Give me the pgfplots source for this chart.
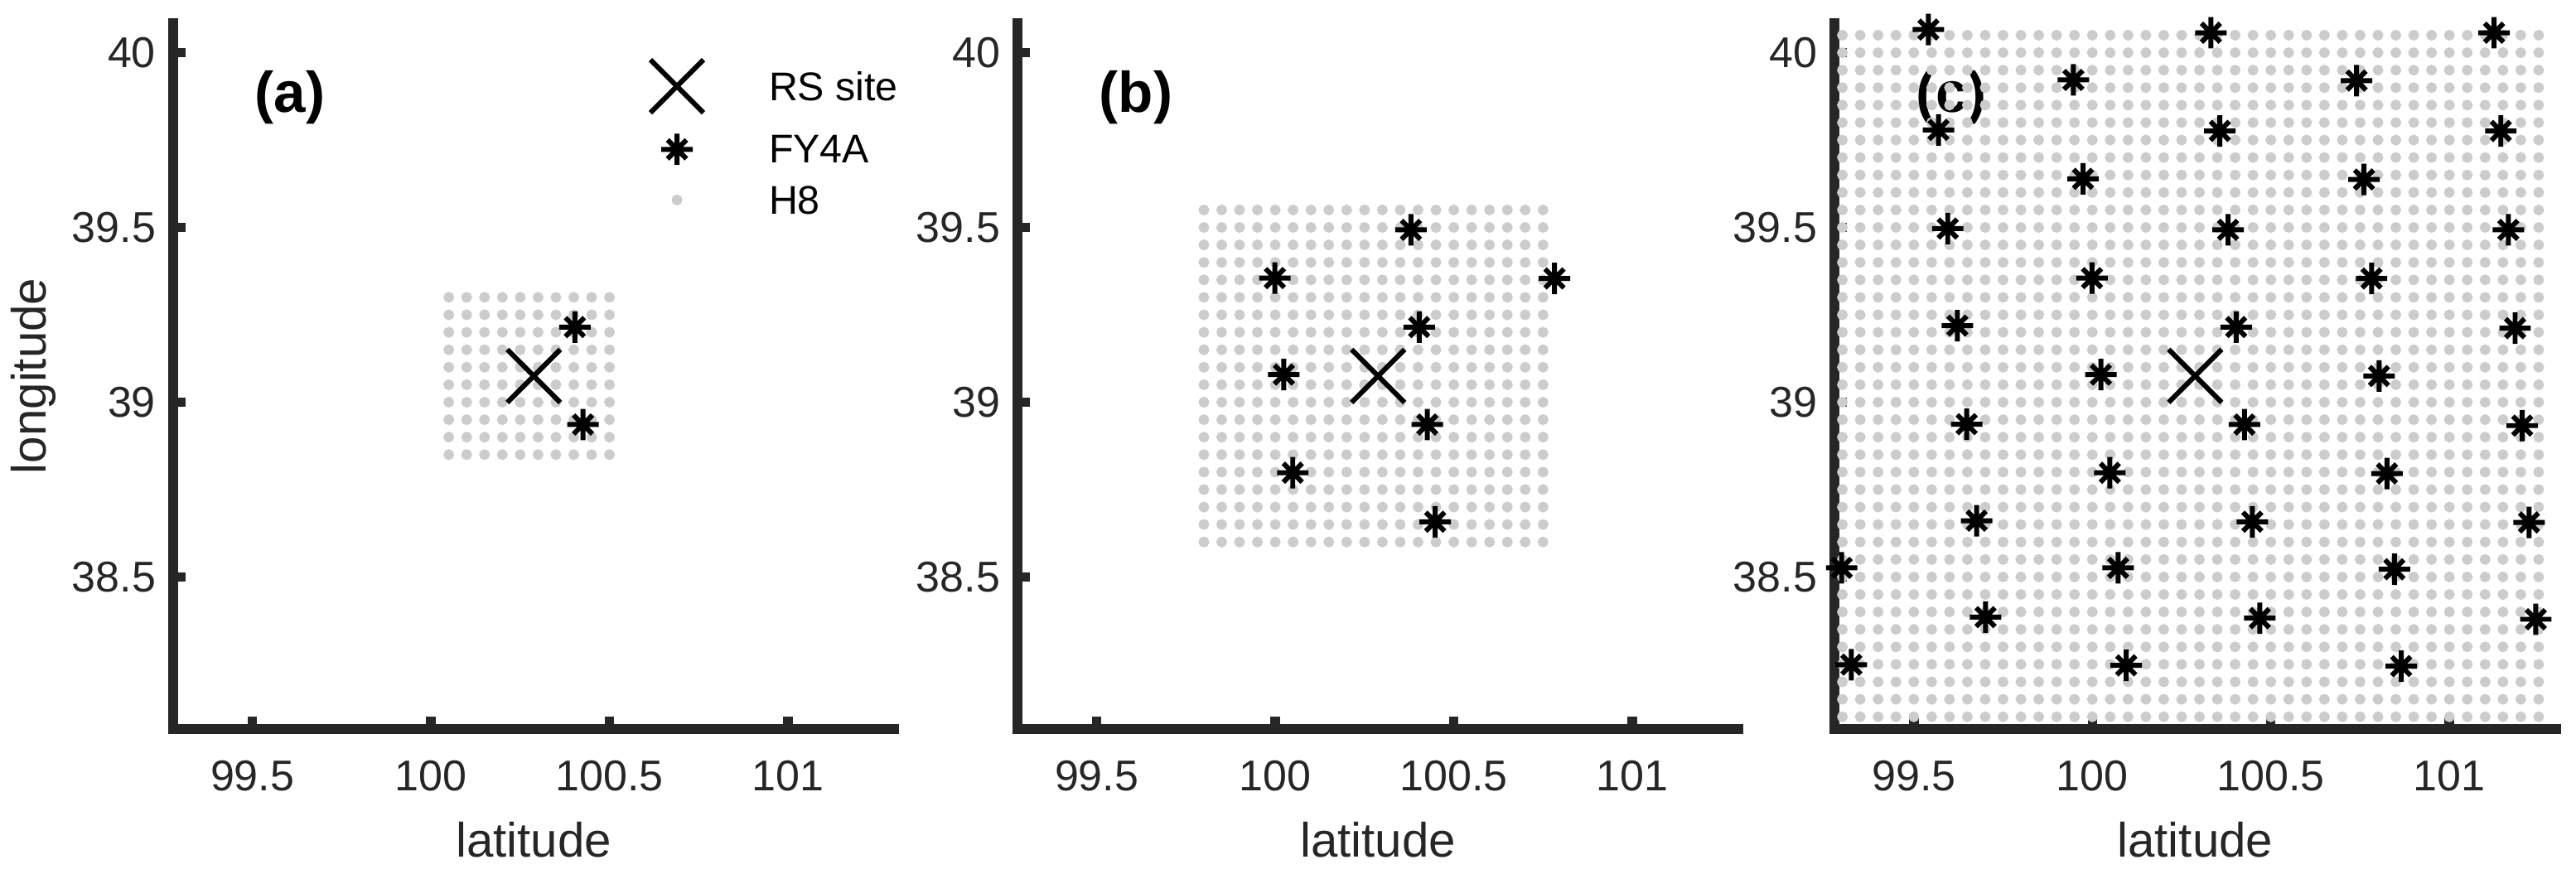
\documentclass[border=0pt]{standalone}
\usepackage{fontspec}
\setmainfont{Liberation Sans}
\usepackage{pgfplots}
\pgfplotsset{compat=1.18}
\usepackage{pgfplotstable}

\definecolor{axgray}{RGB}{38,38,38}
\definecolor{hgray}{RGB}{204,204,204}

% MATLAB-like asterisk: plus with shorter diagonals
\pgfdeclareplotmark{mstar}{%
  \pgfpathmoveto{\pgfqpoint{-\pgfplotmarksize}{0pt}}%
  \pgfpathlineto{\pgfqpoint{\pgfplotmarksize}{0pt}}%
  \pgfpathmoveto{\pgfqpoint{0pt}{-\pgfplotmarksize}}%
  \pgfpathlineto{\pgfqpoint{0pt}{\pgfplotmarksize}}%
  \pgfpathmoveto{\pgfqpoint{-0.6\pgfplotmarksize}{-0.6\pgfplotmarksize}}%
  \pgfpathlineto{\pgfqpoint{0.6\pgfplotmarksize}{0.6\pgfplotmarksize}}%
  \pgfpathmoveto{\pgfqpoint{-0.6\pgfplotmarksize}{0.6\pgfplotmarksize}}%
  \pgfpathlineto{\pgfqpoint{0.6\pgfplotmarksize}{-0.6\pgfplotmarksize}}%
  \pgfusepathqstroke}

% H8 pixel centres (0.05 deg grid)
\pgfplotstableread{
x y
99.3 38.1
99.35 38.1
99.4 38.1
99.45 38.1
99.5 38.1
99.55 38.1
99.6 38.1
99.65 38.1
99.7 38.1
99.75 38.1
99.8 38.1
99.85 38.1
99.9 38.1
99.95 38.1
100 38.1
100.05 38.1
100.1 38.1
100.15 38.1
100.2 38.1
100.25 38.1
100.3 38.1
100.35 38.1
100.4 38.1
100.45 38.1
100.5 38.1
100.55 38.1
100.6 38.1
100.65 38.1
100.7 38.1
100.75 38.1
100.8 38.1
100.85 38.1
100.9 38.1
100.95 38.1
101 38.1
101.05 38.1
101.1 38.1
101.15 38.1
101.2 38.1
101.25 38.1
99.3 38.15
99.35 38.15
99.4 38.15
99.45 38.15
99.5 38.15
99.55 38.15
99.6 38.15
99.65 38.15
99.7 38.15
99.75 38.15
99.8 38.15
99.85 38.15
99.9 38.15
99.95 38.15
100 38.15
100.05 38.15
100.1 38.15
100.15 38.15
100.2 38.15
100.25 38.15
100.3 38.15
100.35 38.15
100.4 38.15
100.45 38.15
100.5 38.15
100.55 38.15
100.6 38.15
100.65 38.15
100.7 38.15
100.75 38.15
100.8 38.15
100.85 38.15
100.9 38.15
100.95 38.15
101 38.15
101.05 38.15
101.1 38.15
101.15 38.15
101.2 38.15
101.25 38.15
99.3 38.2
99.35 38.2
99.4 38.2
99.45 38.2
99.5 38.2
99.55 38.2
99.6 38.2
99.65 38.2
99.7 38.2
99.75 38.2
99.8 38.2
99.85 38.2
99.9 38.2
99.95 38.2
100 38.2
100.05 38.2
100.1 38.2
100.15 38.2
100.2 38.2
100.25 38.2
100.3 38.2
100.35 38.2
100.4 38.2
100.45 38.2
100.5 38.2
100.55 38.2
100.6 38.2
100.65 38.2
100.7 38.2
100.75 38.2
100.8 38.2
100.85 38.2
100.9 38.2
100.95 38.2
101 38.2
101.05 38.2
101.1 38.2
101.15 38.2
101.2 38.2
101.25 38.2
99.3 38.25
99.35 38.25
99.4 38.25
99.45 38.25
99.5 38.25
99.55 38.25
99.6 38.25
99.65 38.25
99.7 38.25
99.75 38.25
99.8 38.25
99.85 38.25
99.9 38.25
99.95 38.25
100 38.25
100.05 38.25
100.1 38.25
100.15 38.25
100.2 38.25
100.25 38.25
100.3 38.25
100.35 38.25
100.4 38.25
100.45 38.25
100.5 38.25
100.55 38.25
100.6 38.25
100.65 38.25
100.7 38.25
100.75 38.25
100.8 38.25
100.85 38.25
100.9 38.25
100.95 38.25
101 38.25
101.05 38.25
101.1 38.25
101.15 38.25
101.2 38.25
101.25 38.25
99.3 38.3
99.35 38.3
99.4 38.3
99.45 38.3
99.5 38.3
99.55 38.3
99.6 38.3
99.65 38.3
99.7 38.3
99.75 38.3
99.8 38.3
99.85 38.3
99.9 38.3
99.95 38.3
100 38.3
100.05 38.3
100.1 38.3
100.15 38.3
100.2 38.3
100.25 38.3
100.3 38.3
100.35 38.3
100.4 38.3
100.45 38.3
100.5 38.3
100.55 38.3
100.6 38.3
100.65 38.3
100.7 38.3
100.75 38.3
100.8 38.3
100.85 38.3
100.9 38.3
100.95 38.3
101 38.3
101.05 38.3
101.1 38.3
101.15 38.3
101.2 38.3
101.25 38.3
99.3 38.35
99.35 38.35
99.4 38.35
99.45 38.35
99.5 38.35
99.55 38.35
99.6 38.35
99.65 38.35
99.7 38.35
99.75 38.35
99.8 38.35
99.85 38.35
99.9 38.35
99.95 38.35
100 38.35
100.05 38.35
100.1 38.35
100.15 38.35
100.2 38.35
100.25 38.35
100.3 38.35
100.35 38.35
100.4 38.35
100.45 38.35
100.5 38.35
100.55 38.35
100.6 38.35
100.65 38.35
100.7 38.35
100.75 38.35
100.8 38.35
100.85 38.35
100.9 38.35
100.95 38.35
101 38.35
101.05 38.35
101.1 38.35
101.15 38.35
101.2 38.35
101.25 38.35
99.3 38.4
99.35 38.4
99.4 38.4
99.45 38.4
99.5 38.4
99.55 38.4
99.6 38.4
99.65 38.4
99.7 38.4
99.75 38.4
99.8 38.4
99.85 38.4
99.9 38.4
99.95 38.4
100 38.4
100.05 38.4
100.1 38.4
100.15 38.4
100.2 38.4
100.25 38.4
100.3 38.4
100.35 38.4
100.4 38.4
100.45 38.4
100.5 38.4
100.55 38.4
100.6 38.4
100.65 38.4
100.7 38.4
100.75 38.4
100.8 38.4
100.85 38.4
100.9 38.4
100.95 38.4
101 38.4
101.05 38.4
101.1 38.4
101.15 38.4
101.2 38.4
101.25 38.4
99.3 38.45
99.35 38.45
99.4 38.45
99.45 38.45
99.5 38.45
99.55 38.45
99.6 38.45
99.65 38.45
99.7 38.45
99.75 38.45
99.8 38.45
99.85 38.45
99.9 38.45
99.95 38.45
100 38.45
100.05 38.45
100.1 38.45
100.15 38.45
100.2 38.45
100.25 38.45
100.3 38.45
100.35 38.45
100.4 38.45
100.45 38.45
100.5 38.45
100.55 38.45
100.6 38.45
100.65 38.45
100.7 38.45
100.75 38.45
100.8 38.45
100.85 38.45
100.9 38.45
100.95 38.45
101 38.45
101.05 38.45
101.1 38.45
101.15 38.45
101.2 38.45
101.25 38.45
99.3 38.5
99.35 38.5
99.4 38.5
99.45 38.5
99.5 38.5
99.55 38.5
99.6 38.5
99.65 38.5
99.7 38.5
99.75 38.5
99.8 38.5
99.85 38.5
99.9 38.5
99.95 38.5
100 38.5
100.05 38.5
100.1 38.5
100.15 38.5
100.2 38.5
100.25 38.5
100.3 38.5
100.35 38.5
100.4 38.5
100.45 38.5
100.5 38.5
100.55 38.5
100.6 38.5
100.65 38.5
100.7 38.5
100.75 38.5
100.8 38.5
100.85 38.5
100.9 38.5
100.95 38.5
101 38.5
101.05 38.5
101.1 38.5
101.15 38.5
101.2 38.5
101.25 38.5
99.3 38.55
99.35 38.55
99.4 38.55
99.45 38.55
99.5 38.55
99.55 38.55
99.6 38.55
99.65 38.55
99.7 38.55
99.75 38.55
99.8 38.55
99.85 38.55
99.9 38.55
99.95 38.55
100 38.55
100.05 38.55
100.1 38.55
100.15 38.55
100.2 38.55
100.25 38.55
100.3 38.55
100.35 38.55
100.4 38.55
100.45 38.55
100.5 38.55
100.55 38.55
100.6 38.55
100.65 38.55
100.7 38.55
100.75 38.55
100.8 38.55
100.85 38.55
100.9 38.55
100.95 38.55
101 38.55
101.05 38.55
101.1 38.55
101.15 38.55
101.2 38.55
101.25 38.55
99.3 38.6
99.35 38.6
99.4 38.6
99.45 38.6
99.5 38.6
99.55 38.6
99.6 38.6
99.65 38.6
99.7 38.6
99.75 38.6
99.8 38.6
99.85 38.6
99.9 38.6
99.95 38.6
100 38.6
100.05 38.6
100.1 38.6
100.15 38.6
100.2 38.6
100.25 38.6
100.3 38.6
100.35 38.6
100.4 38.6
100.45 38.6
100.5 38.6
100.55 38.6
100.6 38.6
100.65 38.6
100.7 38.6
100.75 38.6
100.8 38.6
100.85 38.6
100.9 38.6
100.95 38.6
101 38.6
101.05 38.6
101.1 38.6
101.15 38.6
101.2 38.6
101.25 38.6
99.3 38.65
99.35 38.65
99.4 38.65
99.45 38.65
99.5 38.65
99.55 38.65
99.6 38.65
99.65 38.65
99.7 38.65
99.75 38.65
99.8 38.65
99.85 38.65
99.9 38.65
99.95 38.65
100 38.65
100.05 38.65
100.1 38.65
100.15 38.65
100.2 38.65
100.25 38.65
100.3 38.65
100.35 38.65
100.4 38.65
100.45 38.65
100.5 38.65
100.55 38.65
100.6 38.65
100.65 38.65
100.7 38.65
100.75 38.65
100.8 38.65
100.85 38.65
100.9 38.65
100.95 38.65
101 38.65
101.05 38.65
101.1 38.65
101.15 38.65
101.2 38.65
101.25 38.65
99.3 38.7
99.35 38.7
99.4 38.7
99.45 38.7
99.5 38.7
99.55 38.7
99.6 38.7
99.65 38.7
99.7 38.7
99.75 38.7
99.8 38.7
99.85 38.7
99.9 38.7
99.95 38.7
100 38.7
100.05 38.7
100.1 38.7
100.15 38.7
100.2 38.7
100.25 38.7
100.3 38.7
100.35 38.7
100.4 38.7
100.45 38.7
100.5 38.7
100.55 38.7
100.6 38.7
100.65 38.7
100.7 38.7
100.75 38.7
100.8 38.7
100.85 38.7
100.9 38.7
100.95 38.7
101 38.7
101.05 38.7
101.1 38.7
101.15 38.7
101.2 38.7
101.25 38.7
99.3 38.75
99.35 38.75
99.4 38.75
99.45 38.75
99.5 38.75
99.55 38.75
99.6 38.75
99.65 38.75
99.7 38.75
99.75 38.75
99.8 38.75
99.85 38.75
99.9 38.75
99.95 38.75
100 38.75
100.05 38.75
100.1 38.75
100.15 38.75
100.2 38.75
100.25 38.75
100.3 38.75
100.35 38.75
100.4 38.75
100.45 38.75
100.5 38.75
100.55 38.75
100.6 38.75
100.65 38.75
100.7 38.75
100.75 38.75
100.8 38.75
100.85 38.75
100.9 38.75
100.95 38.75
101 38.75
101.05 38.75
101.1 38.75
101.15 38.75
101.2 38.75
101.25 38.75
99.3 38.8
99.35 38.8
99.4 38.8
99.45 38.8
99.5 38.8
99.55 38.8
99.6 38.8
99.65 38.8
99.7 38.8
99.75 38.8
99.8 38.8
99.85 38.8
99.9 38.8
99.95 38.8
100 38.8
100.05 38.8
100.1 38.8
100.15 38.8
100.2 38.8
100.25 38.8
100.3 38.8
100.35 38.8
100.4 38.8
100.45 38.8
100.5 38.8
100.55 38.8
100.6 38.8
100.65 38.8
100.7 38.8
100.75 38.8
100.8 38.8
100.85 38.8
100.9 38.8
100.95 38.8
101 38.8
101.05 38.8
101.1 38.8
101.15 38.8
101.2 38.8
101.25 38.8
99.3 38.85
99.35 38.85
99.4 38.85
99.45 38.85
99.5 38.85
99.55 38.85
99.6 38.85
99.65 38.85
99.7 38.85
99.75 38.85
99.8 38.85
99.85 38.85
99.9 38.85
99.95 38.85
100 38.85
100.05 38.85
100.1 38.85
100.15 38.85
100.2 38.85
100.25 38.85
100.3 38.85
100.35 38.85
100.4 38.85
100.45 38.85
100.5 38.85
100.55 38.85
100.6 38.85
100.65 38.85
100.7 38.85
100.75 38.85
100.8 38.85
100.85 38.85
100.9 38.85
100.95 38.85
101 38.85
101.05 38.85
101.1 38.85
101.15 38.85
101.2 38.85
101.25 38.85
99.3 38.9
99.35 38.9
99.4 38.9
99.45 38.9
99.5 38.9
99.55 38.9
99.6 38.9
99.65 38.9
99.7 38.9
99.75 38.9
99.8 38.9
99.85 38.9
99.9 38.9
99.95 38.9
100 38.9
100.05 38.9
100.1 38.9
100.15 38.9
100.2 38.9
100.25 38.9
100.3 38.9
100.35 38.9
100.4 38.9
100.45 38.9
100.5 38.9
100.55 38.9
100.6 38.9
100.65 38.9
100.7 38.9
100.75 38.9
100.8 38.9
100.85 38.9
100.9 38.9
100.95 38.9
101 38.9
101.05 38.9
101.1 38.9
101.15 38.9
101.2 38.9
101.25 38.9
99.3 38.95
99.35 38.95
99.4 38.95
99.45 38.95
99.5 38.95
99.55 38.95
99.6 38.95
99.65 38.95
99.7 38.95
99.75 38.95
99.8 38.95
99.85 38.95
99.9 38.95
99.95 38.95
100 38.95
100.05 38.95
100.1 38.95
100.15 38.95
100.2 38.95
100.25 38.95
100.3 38.95
100.35 38.95
100.4 38.95
100.45 38.95
100.5 38.95
100.55 38.95
100.6 38.95
100.65 38.95
100.7 38.95
100.75 38.95
100.8 38.95
100.85 38.95
100.9 38.95
100.95 38.95
101 38.95
101.05 38.95
101.1 38.95
101.15 38.95
101.2 38.95
101.25 38.95
99.3 39
99.35 39
99.4 39
99.45 39
99.5 39
99.55 39
99.6 39
99.65 39
99.7 39
99.75 39
99.8 39
99.85 39
99.9 39
99.95 39
100 39
100.05 39
100.1 39
100.15 39
100.2 39
100.25 39
100.3 39
100.35 39
100.4 39
100.45 39
100.5 39
100.55 39
100.6 39
100.65 39
100.7 39
100.75 39
100.8 39
100.85 39
100.9 39
100.95 39
101 39
101.05 39
101.1 39
101.15 39
101.2 39
101.25 39
99.3 39.05
99.35 39.05
99.4 39.05
99.45 39.05
99.5 39.05
99.55 39.05
99.6 39.05
99.65 39.05
99.7 39.05
99.75 39.05
99.8 39.05
99.85 39.05
99.9 39.05
99.95 39.05
100 39.05
100.05 39.05
100.1 39.05
100.15 39.05
100.2 39.05
100.25 39.05
100.3 39.05
100.35 39.05
100.4 39.05
100.45 39.05
100.5 39.05
100.55 39.05
100.6 39.05
100.65 39.05
100.7 39.05
100.75 39.05
100.8 39.05
100.85 39.05
100.9 39.05
100.95 39.05
101 39.05
101.05 39.05
101.1 39.05
101.15 39.05
101.2 39.05
101.25 39.05
99.3 39.1
99.35 39.1
99.4 39.1
99.45 39.1
99.5 39.1
99.55 39.1
99.6 39.1
99.65 39.1
99.7 39.1
99.75 39.1
99.8 39.1
99.85 39.1
99.9 39.1
99.95 39.1
100 39.1
100.05 39.1
100.1 39.1
100.15 39.1
100.2 39.1
100.25 39.1
100.3 39.1
100.35 39.1
100.4 39.1
100.45 39.1
100.5 39.1
100.55 39.1
100.6 39.1
100.65 39.1
100.7 39.1
100.75 39.1
100.8 39.1
100.85 39.1
100.9 39.1
100.95 39.1
101 39.1
101.05 39.1
101.1 39.1
101.15 39.1
101.2 39.1
101.25 39.1
99.3 39.15
99.35 39.15
99.4 39.15
99.45 39.15
99.5 39.15
99.55 39.15
99.6 39.15
99.65 39.15
99.7 39.15
99.75 39.15
99.8 39.15
99.85 39.15
99.9 39.15
99.95 39.15
100 39.15
100.05 39.15
100.1 39.15
100.15 39.15
100.2 39.15
100.25 39.15
100.3 39.15
100.35 39.15
100.4 39.15
100.45 39.15
100.5 39.15
100.55 39.15
100.6 39.15
100.65 39.15
100.7 39.15
100.75 39.15
100.8 39.15
100.85 39.15
100.9 39.15
100.95 39.15
101 39.15
101.05 39.15
101.1 39.15
101.15 39.15
101.2 39.15
101.25 39.15
99.3 39.2
99.35 39.2
99.4 39.2
99.45 39.2
99.5 39.2
99.55 39.2
99.6 39.2
99.65 39.2
99.7 39.2
99.75 39.2
99.8 39.2
99.85 39.2
99.9 39.2
99.95 39.2
100 39.2
100.05 39.2
100.1 39.2
100.15 39.2
100.2 39.2
100.25 39.2
100.3 39.2
100.35 39.2
100.4 39.2
100.45 39.2
100.5 39.2
100.55 39.2
100.6 39.2
100.65 39.2
100.7 39.2
100.75 39.2
100.8 39.2
100.85 39.2
100.9 39.2
100.95 39.2
101 39.2
101.05 39.2
101.1 39.2
101.15 39.2
101.2 39.2
101.25 39.2
99.3 39.25
99.35 39.25
99.4 39.25
99.45 39.25
99.5 39.25
99.55 39.25
99.6 39.25
99.65 39.25
99.7 39.25
99.75 39.25
99.8 39.25
99.85 39.25
99.9 39.25
99.95 39.25
100 39.25
100.05 39.25
100.1 39.25
100.15 39.25
100.2 39.25
100.25 39.25
100.3 39.25
100.35 39.25
100.4 39.25
100.45 39.25
100.5 39.25
100.55 39.25
100.6 39.25
100.65 39.25
100.7 39.25
100.75 39.25
100.8 39.25
100.85 39.25
100.9 39.25
100.95 39.25
101 39.25
101.05 39.25
101.1 39.25
101.15 39.25
101.2 39.25
101.25 39.25
99.3 39.3
99.35 39.3
99.4 39.3
99.45 39.3
99.5 39.3
99.55 39.3
99.6 39.3
99.65 39.3
99.7 39.3
99.75 39.3
99.8 39.3
99.85 39.3
99.9 39.3
99.95 39.3
100 39.3
100.05 39.3
100.1 39.3
100.15 39.3
100.2 39.3
100.25 39.3
100.3 39.3
100.35 39.3
100.4 39.3
100.45 39.3
100.5 39.3
100.55 39.3
100.6 39.3
100.65 39.3
100.7 39.3
100.75 39.3
100.8 39.3
100.85 39.3
100.9 39.3
100.95 39.3
101 39.3
101.05 39.3
101.1 39.3
101.15 39.3
101.2 39.3
101.25 39.3
99.3 39.35
99.35 39.35
99.4 39.35
99.45 39.35
99.5 39.35
99.55 39.35
99.6 39.35
99.65 39.35
99.7 39.35
99.75 39.35
99.8 39.35
99.85 39.35
99.9 39.35
99.95 39.35
100 39.35
100.05 39.35
100.1 39.35
100.15 39.35
100.2 39.35
100.25 39.35
100.3 39.35
100.35 39.35
100.4 39.35
100.45 39.35
100.5 39.35
100.55 39.35
100.6 39.35
100.65 39.35
100.7 39.35
100.75 39.35
100.8 39.35
100.85 39.35
100.9 39.35
100.95 39.35
101 39.35
101.05 39.35
101.1 39.35
101.15 39.35
101.2 39.35
101.25 39.35
99.3 39.4
99.35 39.4
99.4 39.4
99.45 39.4
99.5 39.4
99.55 39.4
99.6 39.4
99.65 39.4
99.7 39.4
99.75 39.4
99.8 39.4
99.85 39.4
99.9 39.4
99.95 39.4
100 39.4
100.05 39.4
100.1 39.4
100.15 39.4
100.2 39.4
100.25 39.4
100.3 39.4
100.35 39.4
100.4 39.4
100.45 39.4
100.5 39.4
100.55 39.4
100.6 39.4
100.65 39.4
100.7 39.4
100.75 39.4
100.8 39.4
100.85 39.4
100.9 39.4
100.95 39.4
101 39.4
101.05 39.4
101.1 39.4
101.15 39.4
101.2 39.4
101.25 39.4
99.3 39.45
99.35 39.45
99.4 39.45
99.45 39.45
99.5 39.45
99.55 39.45
99.6 39.45
99.65 39.45
99.7 39.45
99.75 39.45
99.8 39.45
99.85 39.45
99.9 39.45
99.95 39.45
100 39.45
100.05 39.45
100.1 39.45
100.15 39.45
100.2 39.45
100.25 39.45
100.3 39.45
100.35 39.45
100.4 39.45
100.45 39.45
100.5 39.45
100.55 39.45
100.6 39.45
100.65 39.45
100.7 39.45
100.75 39.45
100.8 39.45
100.85 39.45
100.9 39.45
100.95 39.45
101 39.45
101.05 39.45
101.1 39.45
101.15 39.45
101.2 39.45
101.25 39.45
99.3 39.5
99.35 39.5
99.4 39.5
99.45 39.5
99.5 39.5
99.55 39.5
99.6 39.5
99.65 39.5
99.7 39.5
99.75 39.5
99.8 39.5
99.85 39.5
99.9 39.5
99.95 39.5
100 39.5
100.05 39.5
100.1 39.5
100.15 39.5
100.2 39.5
100.25 39.5
100.3 39.5
100.35 39.5
100.4 39.5
100.45 39.5
100.5 39.5
100.55 39.5
100.6 39.5
100.65 39.5
100.7 39.5
100.75 39.5
100.8 39.5
100.85 39.5
100.9 39.5
100.95 39.5
101 39.5
101.05 39.5
101.1 39.5
101.15 39.5
101.2 39.5
101.25 39.5
99.3 39.55
99.35 39.55
99.4 39.55
99.45 39.55
99.5 39.55
99.55 39.55
99.6 39.55
99.65 39.55
99.7 39.55
99.75 39.55
99.8 39.55
99.85 39.55
99.9 39.55
99.95 39.55
100 39.55
100.05 39.55
100.1 39.55
100.15 39.55
100.2 39.55
100.25 39.55
100.3 39.55
100.35 39.55
100.4 39.55
100.45 39.55
100.5 39.55
100.55 39.55
100.6 39.55
100.65 39.55
100.7 39.55
100.75 39.55
100.8 39.55
100.85 39.55
100.9 39.55
100.95 39.55
101 39.55
101.05 39.55
101.1 39.55
101.15 39.55
101.2 39.55
101.25 39.55
99.3 39.6
99.35 39.6
99.4 39.6
99.45 39.6
99.5 39.6
99.55 39.6
99.6 39.6
99.65 39.6
99.7 39.6
99.75 39.6
99.8 39.6
99.85 39.6
99.9 39.6
99.95 39.6
100 39.6
100.05 39.6
100.1 39.6
100.15 39.6
100.2 39.6
100.25 39.6
100.3 39.6
100.35 39.6
100.4 39.6
100.45 39.6
100.5 39.6
100.55 39.6
100.6 39.6
100.65 39.6
100.7 39.6
100.75 39.6
100.8 39.6
100.85 39.6
100.9 39.6
100.95 39.6
101 39.6
101.05 39.6
101.1 39.6
101.15 39.6
101.2 39.6
101.25 39.6
99.3 39.65
99.35 39.65
99.4 39.65
99.45 39.65
99.5 39.65
99.55 39.65
99.6 39.65
99.65 39.65
99.7 39.65
99.75 39.65
99.8 39.65
99.85 39.65
99.9 39.65
99.95 39.65
100 39.65
100.05 39.65
100.1 39.65
100.15 39.65
100.2 39.65
100.25 39.65
100.3 39.65
100.35 39.65
100.4 39.65
100.45 39.65
100.5 39.65
100.55 39.65
100.6 39.65
100.65 39.65
100.7 39.65
100.75 39.65
100.8 39.65
100.85 39.65
100.9 39.65
100.95 39.65
101 39.65
101.05 39.65
101.1 39.65
101.15 39.65
101.2 39.65
101.25 39.65
99.3 39.7
99.35 39.7
99.4 39.7
99.45 39.7
99.5 39.7
99.55 39.7
99.6 39.7
99.65 39.7
99.7 39.7
99.75 39.7
99.8 39.7
99.85 39.7
99.9 39.7
99.95 39.7
100 39.7
100.05 39.7
100.1 39.7
100.15 39.7
100.2 39.7
100.25 39.7
100.3 39.7
100.35 39.7
100.4 39.7
100.45 39.7
100.5 39.7
100.55 39.7
100.6 39.7
100.65 39.7
100.7 39.7
100.75 39.7
100.8 39.7
100.85 39.7
100.9 39.7
100.95 39.7
101 39.7
101.05 39.7
101.1 39.7
101.15 39.7
101.2 39.7
101.25 39.7
99.3 39.75
99.35 39.75
99.4 39.75
99.45 39.75
99.5 39.75
99.55 39.75
99.6 39.75
99.65 39.75
99.7 39.75
99.75 39.75
99.8 39.75
99.85 39.75
99.9 39.75
99.95 39.75
100 39.75
100.05 39.75
100.1 39.75
100.15 39.75
100.2 39.75
100.25 39.75
100.3 39.75
100.35 39.75
100.4 39.75
100.45 39.75
100.5 39.75
100.55 39.75
100.6 39.75
100.65 39.75
100.7 39.75
100.75 39.75
100.8 39.75
100.85 39.75
100.9 39.75
100.95 39.75
101 39.75
101.05 39.75
101.1 39.75
101.15 39.75
101.2 39.75
101.25 39.75
99.3 39.8
99.35 39.8
99.4 39.8
99.45 39.8
99.5 39.8
99.55 39.8
99.6 39.8
99.65 39.8
99.7 39.8
99.75 39.8
99.8 39.8
99.85 39.8
99.9 39.8
99.95 39.8
100 39.8
100.05 39.8
100.1 39.8
100.15 39.8
100.2 39.8
100.25 39.8
100.3 39.8
100.35 39.8
100.4 39.8
100.45 39.8
100.5 39.8
100.55 39.8
100.6 39.8
100.65 39.8
100.7 39.8
100.75 39.8
100.8 39.8
100.85 39.8
100.9 39.8
100.95 39.8
101 39.8
101.05 39.8
101.1 39.8
101.15 39.8
101.2 39.8
101.25 39.8
99.3 39.85
99.35 39.85
99.4 39.85
99.45 39.85
99.5 39.85
99.55 39.85
99.6 39.85
99.65 39.85
99.7 39.85
99.75 39.85
99.8 39.85
99.85 39.85
99.9 39.85
99.95 39.85
100 39.85
100.05 39.85
100.1 39.85
100.15 39.85
100.2 39.85
100.25 39.85
100.3 39.85
100.35 39.85
100.4 39.85
100.45 39.85
100.5 39.85
100.55 39.85
100.6 39.85
100.65 39.85
100.7 39.85
100.75 39.85
100.8 39.85
100.85 39.85
100.9 39.85
100.95 39.85
101 39.85
101.05 39.85
101.1 39.85
101.15 39.85
101.2 39.85
101.25 39.85
99.3 39.9
99.35 39.9
99.4 39.9
99.45 39.9
99.5 39.9
99.55 39.9
99.6 39.9
99.65 39.9
99.7 39.9
99.75 39.9
99.8 39.9
99.85 39.9
99.9 39.9
99.95 39.9
100 39.9
100.05 39.9
100.1 39.9
100.15 39.9
100.2 39.9
100.25 39.9
100.3 39.9
100.35 39.9
100.4 39.9
100.45 39.9
100.5 39.9
100.55 39.9
100.6 39.9
100.65 39.9
100.7 39.9
100.75 39.9
100.8 39.9
100.85 39.9
100.9 39.9
100.95 39.9
101 39.9
101.05 39.9
101.1 39.9
101.15 39.9
101.2 39.9
101.25 39.9
99.3 39.95
99.35 39.95
99.4 39.95
99.45 39.95
99.5 39.95
99.55 39.95
99.6 39.95
99.65 39.95
99.7 39.95
99.75 39.95
99.8 39.95
99.85 39.95
99.9 39.95
99.95 39.95
100 39.95
100.05 39.95
100.1 39.95
100.15 39.95
100.2 39.95
100.25 39.95
100.3 39.95
100.35 39.95
100.4 39.95
100.45 39.95
100.5 39.95
100.55 39.95
100.6 39.95
100.65 39.95
100.7 39.95
100.75 39.95
100.8 39.95
100.85 39.95
100.9 39.95
100.95 39.95
101 39.95
101.05 39.95
101.1 39.95
101.15 39.95
101.2 39.95
101.25 39.95
99.3 40
99.35 40
99.4 40
99.45 40
99.5 40
99.55 40
99.6 40
99.65 40
99.7 40
99.75 40
99.8 40
99.85 40
99.9 40
99.95 40
100 40
100.05 40
100.1 40
100.15 40
100.2 40
100.25 40
100.3 40
100.35 40
100.4 40
100.45 40
100.5 40
100.55 40
100.6 40
100.65 40
100.7 40
100.75 40
100.8 40
100.85 40
100.9 40
100.95 40
101 40
101.05 40
101.1 40
101.15 40
101.2 40
101.25 40
99.3 40.05
99.35 40.05
99.4 40.05
99.45 40.05
99.5 40.05
99.55 40.05
99.6 40.05
99.65 40.05
99.7 40.05
99.75 40.05
99.8 40.05
99.85 40.05
99.9 40.05
99.95 40.05
100 40.05
100.05 40.05
100.1 40.05
100.15 40.05
100.2 40.05
100.25 40.05
100.3 40.05
100.35 40.05
100.4 40.05
100.45 40.05
100.5 40.05
100.55 40.05
100.6 40.05
100.65 40.05
100.7 40.05
100.75 40.05
100.8 40.05
100.85 40.05
100.9 40.05
100.95 40.05
101 40.05
101.05 40.05
101.1 40.05
101.15 40.05
101.2 40.05
101.25 40.05
}\hgrid

% FY4A pixel centres
\pgfplotstableread{
x y
100.403 39.215
100.426 38.936
}\fya

\pgfplotstableread{
x y
100.380 39.493
99.999 39.355
100.782 39.354
100.403 39.215
100.024 39.079
100.426 38.936
100.049 38.798
100.448 38.658
}\fyb

\pgfplotstableread{
x y
99.298 38.526
99.325 38.249
99.541 40.066
99.569 39.779
99.595 39.497
99.622 39.219
99.648 38.937
99.676 38.661
99.701 38.385
99.947 39.922
99.974 39.639
99.999 39.355
100.024 39.079
100.049 38.798
100.072 38.526
100.095 38.247
100.332 40.057
100.357 39.776
100.380 39.493
100.403 39.215
100.426 38.936
100.448 38.658
100.469 38.382
100.740 39.920
100.761 39.637
100.782 39.354
100.803 39.075
100.825 38.796
100.846 38.522
100.865 38.245
101.125 40.057
101.144 39.776
101.165 39.493
101.184 39.212
101.204 38.933
101.223 38.656
101.242 38.379
}\fyc

\tikzset{lab/.style={anchor=west, inner sep=0pt, font=\fontsize{13.3}{15}\selectfont\bfseries}}

\pgfplotsset{
  panel/.style={
    scale only axis, width=167.4pt, height=163.9pt,
    xmin=99.278, xmax=101.298, ymin=38.065, ymax=40.085,
    axis x line*=bottom, axis y line*=left,
    axis line style={draw=axgray, line width=2.3pt, line cap=rect, -},
    tick align=inside, major tick length=2.8pt,
    every tick/.style={axgray, line width=2.2pt},
    xtick={99.5,100,100.5,101}, ytick={38.5,39,39.5,40},
    /pgf/number format/assume math mode=true,
    ticklabel style={font=\fontsize{10}{12}\selectfont, text=axgray},
    xticklabel style={anchor=north, inner sep=0pt, yshift=-7.1pt},
    yticklabel style={anchor=east, inner sep=0pt, xshift=-3.85pt},
    xlabel={latitude},
    xlabel style={at={(axis description cs:0.5,0)}, anchor=base, yshift=-29.8pt,
      inner sep=0pt, font=\fontsize{11.2}{13}\selectfont, text=axgray},
    set layers, clip=false,
  },
  h8/.style={only marks, color=hgray, mark=*, mark size=1.05pt,
    mark options={draw=hgray, fill=hgray, line width=0.4pt},
    legend image code/.code={\draw[##1] plot coordinates {(0pt,0pt)};}},
  fy/.style={only marks, color=black, mark=mstar, mark size=3.65pt,
    mark options={draw=black, line width=1.15pt},
    legend image code/.code={\draw[##1] plot coordinates {(0pt,0pt)};}},
  rs/.style={only marks, color=black, mark=x, mark size=8.7pt,
    mark options={draw=black, line width=1.15pt},
    legend image code/.code={\draw[##1] plot coordinates {(0pt,0pt)};}},
}

\begin{document}
\begin{tikzpicture}

% (a)
\begin{axis}[panel, at={(0pt,0pt)}, anchor=south west,
  ylabel={longitude},
  ylabel style={at={(axis description cs:0,0.5)}, anchor=center, yshift=32.5pt,
    inner sep=0pt, font=\fontsize{11.2}{13}\selectfont, text=axgray},
  reverse legend, legend cell align=left,
  legend style={draw=none, fill=none, at={(0.6985,0.9104)}, anchor=north west,
    xshift=-6.15pt, yshift=6.15pt, inner sep=0pt, outer sep=0pt,
    row sep=4.85pt, column sep=15.2pt,
    font=\fontsize{9.3}{11}\selectfont, nodes={inner sep=0pt, text depth=0pt}},
]
\addplot[h8, restrict x to domain=100.04:100.51, restrict y to domain=38.84:39.31] table {\hgrid};
\addlegendentry{H8}
\addplot[fy] table {\fya};
\addlegendentry{FY4A}
\addplot[rs] coordinates {(100.288,39.075)};
\addlegendentry{RS site}
\node[lab] at (axis cs:99.505,39.873) {(a)};
\end{axis}

% (b)
\begin{axis}[panel, at={(195.96pt,0pt)}, anchor=south west]
\addplot[h8, restrict x to domain=99.79:100.76, restrict y to domain=38.59:39.56] table {\hgrid};
\addplot[fy] table {\fyb};
\addplot[rs] coordinates {(100.288,39.075)};
\node[lab] at (axis cs:99.505,39.873) {(b)};
\end{axis}

% (c)
\begin{axis}[panel, at={(385.6pt,0pt)}, anchor=south west]
\addplot[h8] table {\hgrid};
\addplot[fy] table {\fyc};
\addplot[rs] coordinates {(100.288,39.075)};
\node[lab] at (axis cs:99.505,39.873) {(c)};
\end{axis}

\pgfresetboundingbox
\path[use as bounding box] (-40.19pt,-33.65pt) rectangle (557.69pt,169.23pt);
\end{tikzpicture}
\end{document}
